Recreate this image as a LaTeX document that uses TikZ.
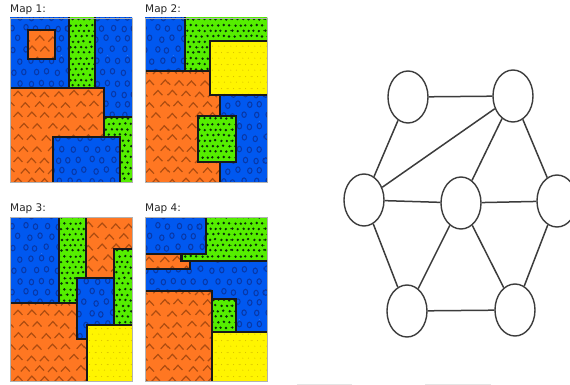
\documentclass[tikz,border=0pt]{standalone}
\usepackage{fontspec}
\setmainfont{DejaVu Sans}
\usetikzlibrary{shapes.geometric,patterns}
\definecolor{blueF}{HTML}{0058F0}
\definecolor{blueP}{HTML}{0838A8}
\definecolor{greenF}{HTML}{55EE00}
\definecolor{greenP}{HTML}{083008}
\definecolor{orangeF}{HTML}{FF7722}
\definecolor{orangeP}{HTML}{AE4C10}
\definecolor{yellowF}{HTML}{FFF500}
\definecolor{yellowP}{HTML}{D8C000}
\definecolor{lineK}{HTML}{3C3C3C}
\pgfdeclarepatternformonly{ringsP}{\pgfqpoint{0pt}{0pt}}{\pgfqpoint{66pt}{66pt}}{\pgfqpoint{66pt}{66pt}}{%
  \pgfmathsetseed{4217}%
  \pgfsetlinewidth{1.05pt}%
  \foreach \i in {0,...,5}{\foreach \j in {0,...,5}{%
    \pgfmathsetmacro\px{(\i+0.5)*11+mod(\j,2)*5.5-2.75+rand*1.6}%
    \pgfmathsetmacro\py{(\j+0.5)*11+rand*1.4}%
    \foreach \k in {-66,0,66}{%
      \pgfpathellipse{\pgfpoint{\px pt+\k pt}{\py pt}}{\pgfqpoint{2.2pt}{0pt}}{\pgfqpoint{0pt}{2.8pt}}%
    }}}%
  \pgfusepath{stroke}}
\pgfdeclarepatternformonly{dotsP}{\pgfqpoint{0pt}{0pt}}{\pgfqpoint{33pt}{33pt}}{\pgfqpoint{33pt}{33pt}}{%
  \pgfmathsetseed{311}%
  \foreach \i in {0,...,5}{\foreach \j in {0,...,5}{%
    \pgfmathsetmacro\px{(\i+0.5)*5.5+mod(\j,2)*2.75-1.375+rand*0.6}%
    \pgfmathsetmacro\py{(\j+0.5)*5.5+rand*0.6}%
    \foreach \k in {-33,0,33}{%
      \pgfpathcircle{\pgfpoint{\px pt+\k pt}{\py pt}}{1.35pt}%
    }}}%
  \pgfusepath{fill}}
\pgfdeclarepatternformonly{finedotsP}{\pgfqpoint{0pt}{0pt}}{\pgfqpoint{12pt}{12pt}}{\pgfqpoint{12pt}{12pt}}{%
  \pgfpathcircle{\pgfqpoint{3pt}{3pt}}{0.6pt}%
  \pgfpathcircle{\pgfqpoint{9pt}{3pt}}{0.6pt}%
  \pgfpathcircle{\pgfqpoint{0pt}{9pt}}{0.6pt}%
  \pgfpathcircle{\pgfqpoint{6pt}{9pt}}{0.6pt}%
  \pgfpathcircle{\pgfqpoint{12pt}{9pt}}{0.6pt}%
  \pgfusepath{fill}}
\pgfdeclarepatternformonly{chevP}{\pgfqpoint{0pt}{0pt}}{\pgfqpoint{84pt}{66pt}}{\pgfqpoint{84pt}{66pt}}{%
  \pgfmathsetseed{97}%
  \pgfsetlinewidth{1.2pt}%
  \foreach \i in {0,...,5}{\foreach \j in {0,...,5}{%
    \pgfmathsetmacro\px{(\i+0.25)*14+mod(\j,2)*7+rand*1.5}%
    \pgfmathsetmacro\py{(\j+0.5)*11+rand*1.2}%
    \foreach \k in {-84,0,84}{%
      \pgfpathmoveto{\pgfpoint{\px pt+\k pt-4.5pt}{\py pt-2.4pt}}%
      \pgfpathlineto{\pgfpoint{\px pt+\k pt}{\py pt+2.4pt}}%
      \pgfpathlineto{\pgfpoint{\px pt+\k pt+4.5pt}{\py pt-2.4pt}}%
    }}}%
  \pgfusepath{stroke}}
\tikzset{
  outl/.style={draw=black!90,line width=1.4pt,line join=miter},
  regblue/.style={preaction={fill=blueF},preaction={pattern=ringsP,pattern color=blueP},outl},
  reggreen/.style={preaction={fill=greenF},preaction={pattern=dotsP,pattern color=greenP},outl},
  regorange/.style={preaction={fill=orangeF},preaction={pattern=chevP,pattern color=orangeP},outl},
  regyellow/.style={preaction={fill=yellowF},preaction={pattern=finedotsP,pattern color=yellowP},outl},
  maplabel/.style={anchor=base west,inner sep=0pt,font=\fontsize{10.5}{11}\selectfont,text=black!85},
  mapframe/.style={draw=black!30,line width=0.5pt},
  vertex/.style={draw=lineK,line width=1.4pt,fill=white,ellipse,minimum width=40pt,minimum height=52pt,inner sep=0pt},
  edge/.style={draw=lineK,line width=1.5pt},
  faint/.style={draw=black!10,line width=0.8pt}
}
\begin{document}
\begin{tikzpicture}[x=1pt,y=-1pt]
\useasboundingbox (0,0) rectangle (570,385);
\clip (0,0) rectangle (570,385);
\fill[white] (0,0) rectangle (570,385);
% Map 1
\node[maplabel] (l1) at (10,13) {Map 1:};
\begin{scope}\clip (10,18) rectangle (132,182);
\path[regblue] (8,16) rectangle (134,184);
\path[reggreen] (69,16) rectangle (95,88);
\path[regorange] (28,30) rectangle (55,59);
\path[reggreen] (104,117) rectangle (134,184);
\path[regorange] (8,88) rectangle (104,184);
\path[regblue] (53,137) rectangle (120,184);
\end{scope}
\draw[mapframe] (10,18) rectangle (132,182);
% Map 2
\node[maplabel] (l2) at (145,13) {Map 2:};
\begin{scope}\clip (145,18) rectangle (267,182);
\path[regblue] (143,16) rectangle (269,184);
\path[reggreen] (185,16) rectangle (269,71);
\path[regorange] (143,71) rectangle (220,184);
\path[regyellow] (210,41) rectangle (269,95);
\path[reggreen] (198,116) rectangle (236,162);
\end{scope}
\draw[mapframe] (145,18) rectangle (267,182);
% Map 3
\node[maplabel] (l3) at (10,211) {Map 3:};
\begin{scope}\clip (10,217) rectangle (132,381);
\path[regblue] (8,215) rectangle (134,383);
\path[reggreen] (59,215) -- (86,215) -- (86,278) -- (77,278) -- (77,303) -- (59,303) -- cycle;
\path[regorange] (86,215) -- (134,215) -- (134,249) -- (114,249) -- (114,278) -- (86,278) -- cycle;
\path[reggreen] (114,249) rectangle (134,325);
\path[regblue] (77,278) -- (114,278) -- (114,325) -- (87,325) -- (87,339) -- (77,339) -- cycle;
\path[regorange] (8,303) -- (77,303) -- (77,339) -- (87,339) -- (87,383) -- (8,383) -- cycle;
\path[regyellow] (87,325) rectangle (134,383);
\end{scope}
\draw[mapframe] (10,217) rectangle (132,381);
% Map 4
\node[maplabel] (l4) at (145,211) {Map 4:};
\begin{scope}\clip (145,217) rectangle (267,381);
\path[regblue] (143,215) rectangle (269,383);
\path[reggreen] (206,215) -- (269,215) -- (269,261) -- (182,261) -- (182,254) -- (206,254) -- cycle;
\path[regorange] (143,254) -- (181,254) -- (181,261) -- (190,261) -- (190,269) -- (143,269) -- cycle;
\path[regorange] (143,291) rectangle (212,383);
\path[reggreen] (212,299) rectangle (236,332);
\path[regyellow] (212,332) rectangle (269,383);
\end{scope}
\draw[mapframe] (145,217) rectangle (267,381);
% Graph
\node[vertex] (A) at (408,97) {};
\node[vertex] (B) at (513,96) {};
\node[vertex] (C) at (364,200) {};
\node[vertex] (D) at (461,203) {};
\node[vertex] (E) at (557,201) {};
\node[vertex] (F) at (407,311) {};
\node[vertex] (G) at (515,310) {};
\foreach \a/\b in {A/B,A/C,B/C,B/D,B/E,C/D,D/E,C/F,D/F,D/G,E/G,F/G}
  \draw[edge] (\a) -- (\b);
% faint rules at the bottom edge
\coordinate (r1) at (297,384);\coordinate (r2) at (352,384);
\coordinate (r3) at (425,384);\coordinate (r4) at (491,384);
\draw[faint] (r1) -- (r2);
\draw[faint] (r3) -- (r4);
\end{tikzpicture}
\end{document}
